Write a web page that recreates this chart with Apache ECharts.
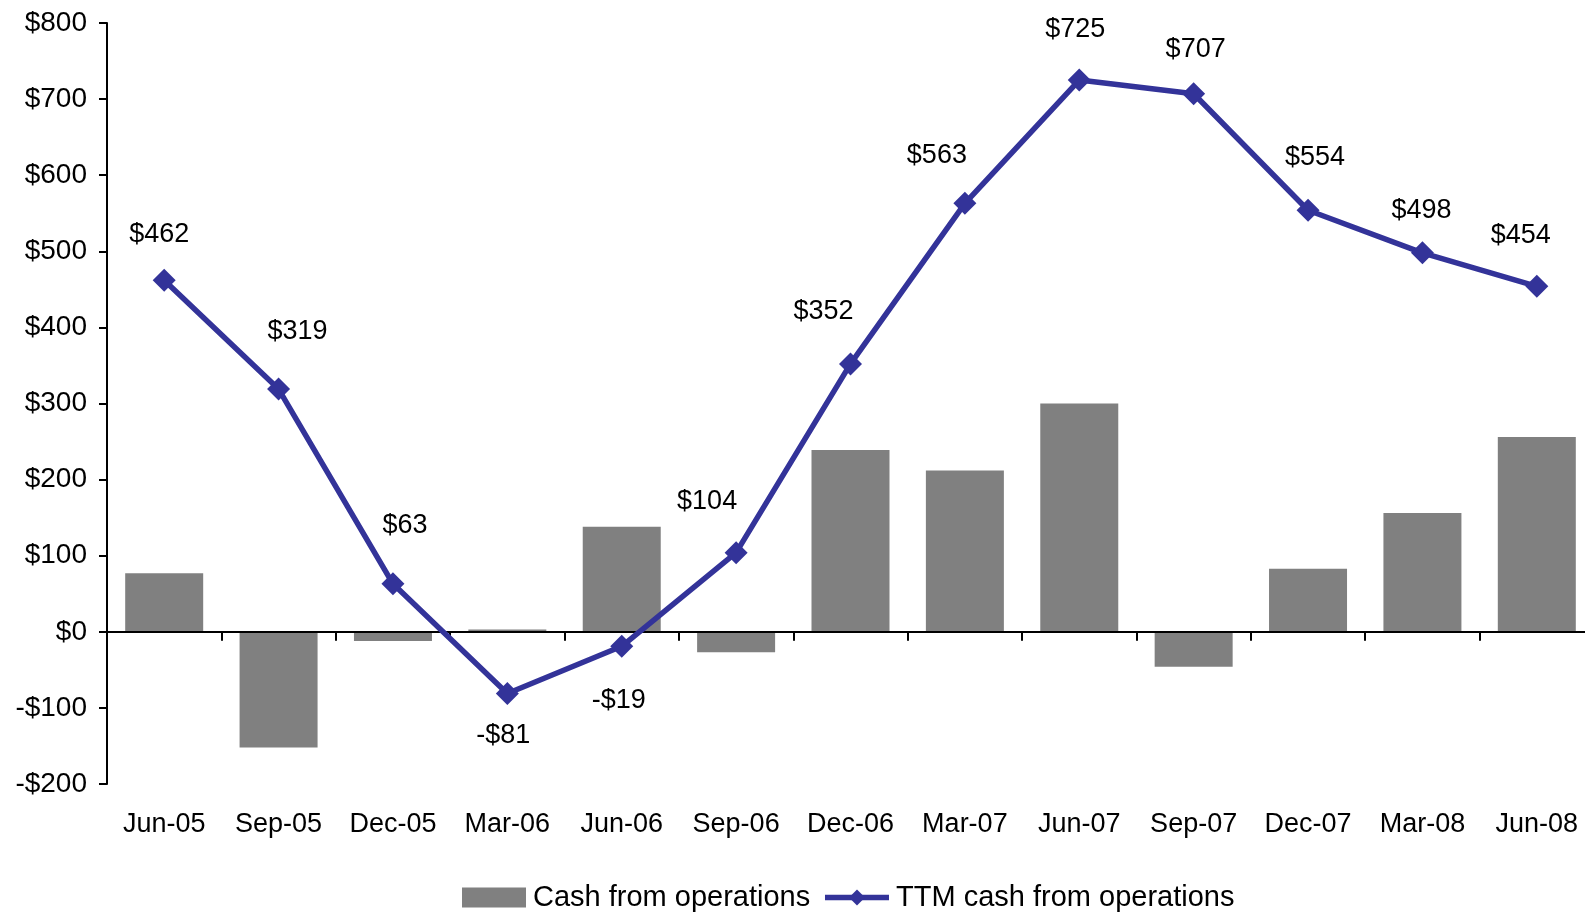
<!DOCTYPE html>
<html>
<head>
    <meta charset="utf-8">
    <title>Cash from operations</title>
    <script src="https://cdn.jsdelivr.net/npm/echarts@6/dist/echarts.min.js"></script>
    <style>
        html, body { margin: 0; padding: 0; background: #fff; }
    </style>
</head>
<body>
<div id="main" style="width: 1585px;height:914px;"></div>
<script type="text/javascript">
// quarters
var quarters = ['Jun-05', 'Sep-05', 'Dec-05', 'Mar-06', 'Jun-06', 'Sep-06', 'Dec-06',
                'Mar-07', 'Jun-07', 'Sep-07', 'Dec-07', 'Mar-08', 'Jun-08'];
// quarterly cash from operations ($M)
var cashOps = [77, -152, -12, 3, 138, -27, 239, 212, 300, -46, 83, 156, 256];
// trailing twelve months
var ttmCash = [462, 319, 63, -81, -19, 104, 352, 563, 725, 707, 554, 498, 454];

// label placement relative to each point (dx, dy)
var labelShift = [[-5, -46], [19, -57], [12, -58], [-4, 42], [-3, 54], [-29, -51], [-27, -52],
                  [-28, -48], [-4, -51], [2, -44], [7, -53], [-1, -42], [-16, -51]];

var FONT = "'Liberation Sans', Arial, sans-serif";

function money(v) {
    return v < 0 ? '-$' + Math.abs(v) : '$' + v;
}

var myChart = echarts.init(document.getElementById('main'));

var ttmData = ttmCash.map(function (v, i) {
    return {
        value: v,
        label: {offset: labelShift[i]}
    };
});

myChart.setOption({
    backgroundColor: '#fff',
    animation: false,
    textStyle: {fontFamily: FONT, color: '#000'},
    // plot runs a little past the right edge, like the original
    grid: {left: 107, width: 1487, top: 23, bottom: 130, outerBoundsMode: 'none'},
    legend: {
        top: 883,
        left: 462,
        padding: 0,
        itemWidth: 64,
        itemHeight: 20,
        itemGap: 12,
        textStyle: {fontFamily: FONT, fontSize: 29, color: '#000', padding: [0, 0, 0, 2]},
        data: [
            {name: 'Cash from operations', icon: 'rect'},
            {name: 'TTM cash from operations', lineStyle: {width: 5.5, color: '#333399'}}
        ]
    },
    xAxis: [
        {
            type: 'category',
            data: quarters,
            position: 'bottom',
            axisLine: {show: false, onZero: false},
            axisTick: {show: false},
            axisLabel: {fontFamily: FONT, fontSize: 27, color: '#000', margin: 27}
        },
        {
            type: 'category',
            data: quarters,
            position: 'top',
            z: 3,
            axisLine: {show: true, onZero: true, lineStyle: {color: '#000', width: 2}},
            axisTick: {show: true, inside: true, length: 9, lineStyle: {color: '#000', width: 2}},
            axisLabel: {show: false}
        }
    ],
    yAxis: {
        type: 'value',
        min: -200,
        max: 800,
        interval: 100,
        splitLine: {show: false},
        axisLine: {show: true, lineStyle: {color: '#000', width: 2}},
        axisTick: {show: true, length: 8, lineStyle: {color: '#000', width: 2}},
        axisLabel: {
            fontFamily: FONT, fontSize: 28, color: '#000', margin: 20,
            formatter: money
        }
    },
    series: [
        {
            name: 'Cash from operations',
            type: 'bar',
            data: cashOps,
            barWidth: 78,
            itemStyle: {color: '#808080'}
        },
        {
            name: 'TTM cash from operations',
            type: 'line',
            data: ttmData,
            z: 5,
            symbol: 'diamond',
            symbolSize: 23,
            lineStyle: {color: '#333399', width: 5.5},
            itemStyle: {color: '#333399'},
            label: {
                show: true,
                position: 'inside',
                fontFamily: FONT,
                fontSize: 27,
                color: '#000',
                formatter: function (p) { return money(p.value); }
            }
        }
    ]
});
</script>
</body>
</html>
